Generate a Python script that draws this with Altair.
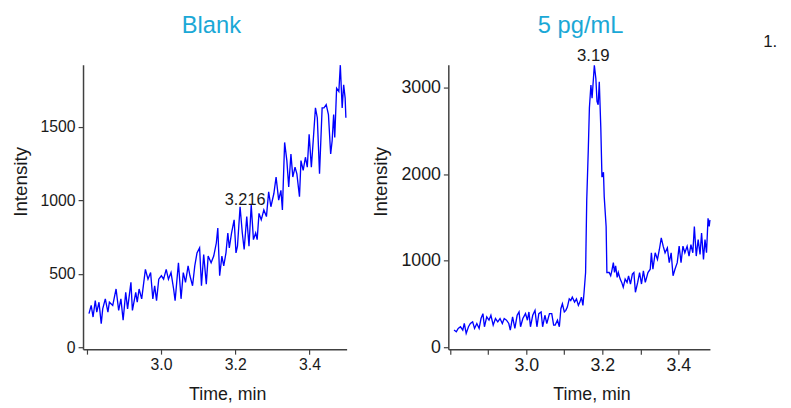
import altair as alt
import pandas as pd

# ---------------- data ----------------
blank_time = [2.806, 2.812, 2.817, 2.823, 2.827, 2.833, 2.839, 2.843, 2.850, 2.857,
              2.861, 2.870, 2.879, 2.886, 2.892, 2.898, 2.905, 2.910, 2.919, 2.923,
              2.932, 2.936, 2.941, 2.948, 2.958, 2.965, 2.972, 2.978, 2.983, 2.988,
              2.994, 3.001, 3.007, 3.014, 3.020, 3.027, 3.034, 3.038, 3.047, 3.054,
              3.060, 3.066, 3.073, 3.078, 3.085, 3.091, 3.097, 3.104, 3.109, 3.115,
              3.122, 3.127, 3.135, 3.142, 3.149, 3.153, 3.158, 3.164, 3.169, 3.175,
              3.180, 3.184, 3.190, 3.197, 3.202, 3.206, 3.213, 3.219, 3.224, 3.231,
              3.237, 3.243, 3.249, 3.255, 3.259, 3.264, 3.270, 3.277, 3.284, 3.290,
              3.296, 3.304, 3.310, 3.317, 3.323, 3.327, 3.333, 3.339, 3.344, 3.350,
              3.355, 3.361, 3.366, 3.373, 3.377, 3.383, 3.389, 3.394, 3.399, 3.405,
              3.410, 3.416, 3.421, 3.427, 3.434, 3.439, 3.445, 3.451, 3.457, 3.461,
              3.465, 3.468, 3.473, 3.479, 3.483, 3.488, 3.492, 3.496, 3.498]
blank_int = [229, 285, 206, 318, 240, 307, 161, 262, 330, 240,
             307, 285, 397, 251, 330, 184, 374, 262, 442, 251,
             374, 307, 397, 330, 531, 464, 509, 330, 419, 318,
             464, 487, 464, 531, 464, 509, 397, 318, 576, 330,
             509, 442, 554, 487, 419, 554, 643, 677, 419, 632,
             430, 621, 576, 621, 710, 812, 487, 621, 554, 643,
             778, 677, 778, 868, 643, 688, 957, 778, 666, 890,
             688, 969, 733, 778, 733, 912, 868, 935, 890, 1058,
             957, 1047, 1159, 1002, 1069, 935, 1395, 1271, 1092, 1316,
             1159, 1226, 1181, 1025, 1271, 1204, 1294, 1226, 1450, 1226,
             1406, 1630, 1563, 1181, 1630, 1630, 1652, 1585, 1316, 1406,
             1585, 1428, 1764, 1742, 1921, 1630, 1787, 1697, 1563]

std_time = [2.810, 2.816, 2.821, 2.827, 2.833, 2.837, 2.842, 2.848, 2.853, 2.859,
            2.864, 2.870, 2.876, 2.881, 2.886, 2.890, 2.896, 2.902, 2.907, 2.913,
            2.919, 2.925, 2.931, 2.937, 2.942, 2.948, 2.954, 2.958, 2.964, 2.970,
            2.976, 2.981, 2.985, 2.991, 2.998, 3.003, 3.007, 3.011, 3.017, 3.023,
            3.028, 3.033, 3.039, 3.043, 3.049, 3.054, 3.061, 3.067, 3.072, 3.076,
            3.082, 3.087, 3.091, 3.095, 3.100, 3.104, 3.108, 3.113, 3.117, 3.121,
            3.127, 3.132, 3.137, 3.141, 3.145, 3.149, 3.152, 3.156, 3.159, 3.163,
            3.166, 3.170, 3.173, 3.176, 3.179, 3.183, 3.186, 3.189, 3.192, 3.196,
            3.199, 3.203, 3.205, 3.210, 3.212, 3.215, 3.218, 3.222, 3.225, 3.229,
            3.232, 3.235, 3.239, 3.242, 3.247, 3.251, 3.255, 3.260, 3.265, 3.269,
            3.274, 3.279, 3.283, 3.287, 3.293, 3.298, 3.303, 3.308, 3.313, 3.320,
            3.326, 3.329, 3.333, 3.339, 3.345, 3.350, 3.355, 3.360, 3.365, 3.371,
            3.376, 3.381, 3.386, 3.391, 3.397, 3.402, 3.407, 3.412, 3.417, 3.423,
            3.428, 3.433, 3.438, 3.442, 3.447, 3.452, 3.457, 3.461, 3.466, 3.470,
            3.474, 3.478, 3.481, 3.483]
std_int = [198, 179, 217, 236, 198, 274, 160, 236, 274, 293,
           217, 274, 217, 331, 388, 236, 350, 312, 369, 255,
           331, 293, 331, 274, 331, 312, 274, 198, 350, 217,
           369, 407, 236, 331, 388, 312, 407, 236, 369, 426,
           236, 388, 407, 236, 369, 274, 388, 388, 255, 255,
           312, 236, 445, 502, 407, 426, 464, 559, 540, 578,
           521, 559, 483, 521, 578, 483, 635, 863, 1699, 2269,
           2763, 3029, 2877, 3067, 3257, 3105, 2839, 2801, 3067, 2535,
           1965, 2022, 1737, 1395, 863, 863, 863, 825, 882, 977,
           863, 939, 806, 863, 787, 749, 692, 787, 749, 825,
           730, 844, 863, 635, 749, 863, 730, 882, 749, 863,
           901, 1091, 901, 1091, 1015, 1129, 1262, 1167, 1091, 1148,
           977, 1091, 825, 901, 977, 1167, 977, 1167, 1091, 1167,
           1053, 1186, 1091, 1395, 1053, 1243, 1072, 1319, 1015, 1243,
           1091, 1490, 1395, 1471]

panel_titles = ["Blank", "5 pg/mL"]
peak_labels = ["3.216", "3.19"]
peak_times = [3.216, 3.179]
peak_ints = [968, 3257]
corner_label = "1."

blank_xticks = [2.80, 2.85, 2.90, 2.95, 3.00, 3.05, 3.10, 3.15, 3.20, 3.25, 3.30, 3.35, 3.40, 3.45, 3.50]
std_xticks = [2.80, 2.85, 2.90, 2.95, 3.00, 3.05, 3.10, 3.15, 3.20, 3.25, 3.30, 3.35, 3.40, 3.45]
blank_yticks = [0, 500, 1000, 1500]
std_yticks = [0, 1000, 2000, 3000]

# ---------------- styling ----------------
FONT = "Liberation Sans"
LINE_BLUE = "#0000ff"
TITLE_COLOR = "#1ba8d6"
TEXT_COLOR = "#1a1a1a"
AXIS_COLOR = "#404040"
H = 288

LABEL_EXPR = ("datum.value > 2.9 && abs(datum.value*5 - round(datum.value*5)) < 0.001 "
              "? format(datum.value, '.1f') : ''")


def panel(times, ints, xdom, ydom, xticks, yticks, width, title, title_x,
          ann_label, ann_t, ann_v, ann_dx, ann_dy, ann_size,
          label_size, x_title_pad, x_title_x, y_title_pad, extra=None):
    df = pd.DataFrame({"t": times, "v": ints})
    x = alt.X("t:Q",
              scale=alt.Scale(domain=xdom, nice=False, zero=False),
              axis=alt.Axis(values=xticks, labelExpr=LABEL_EXPR, title="Time, min",
                            grid=False, labelPadding=3, labelFontSize=label_size,
                            titlePadding=x_title_pad, titleFontSize=18,
                            titleX=x_title_x, labelFlush=False))
    y = alt.Y("v:Q",
              scale=alt.Scale(domain=ydom, nice=False, zero=False),
              axis=alt.Axis(values=yticks, format="d", title="Intensity", grid=False,
                            labelPadding=3, labelFontSize=label_size,
                            titlePadding=y_title_pad, titleFontSize=19, titleY=118,
                            labelFlush=False))
    line = alt.Chart(df).mark_line(color=LINE_BLUE, strokeWidth=1.35).encode(x=x, y=y)

    ann_df = pd.DataFrame({"t": [ann_t], "v": [ann_v], "label": [ann_label]})
    ann = alt.Chart(ann_df).mark_text(font=FONT, fontSize=ann_size, color=TEXT_COLOR,
                                      baseline="alphabetic", align="center",
                                      dx=ann_dx, dy=ann_dy).encode(
        x="t:Q", y="v:Q", text="label:N")

    ttl_df = pd.DataFrame({"label": [title]})
    ttl = alt.Chart(ttl_df).mark_text(font=FONT, fontSize=24, color=TITLE_COLOR,
                                      baseline="alphabetic", align="center").encode(
        x=alt.value(title_x), y=alt.value(-32), text="label:N")

    layers = [line, ann, ttl]
    if extra is not None:
        layers.append(extra)
    return alt.layer(*layers).properties(width=width, height=H)


left = panel(blank_time, blank_int, [2.79, 3.5], [-13, 1923], blank_xticks, blank_yticks,
             267, panel_titles[0], 130,
             peak_labels[0], peak_times[0], peak_ints[0], 4, 0, 16.5,
             16, 13, 146, 10)

corner_df = pd.DataFrame({"label": [corner_label]})
corner = alt.Chart(corner_df).mark_text(font=FONT, fontSize=17, color=TEXT_COLOR,
                                        baseline="alphabetic", align="left").encode(
    x=alt.value(319), y=alt.value(-18), text="label:N")

right = panel(std_time, std_int, [2.795, 3.483], [-23, 3262], std_xticks, std_yticks,
              265, panel_titles[1], 134,
              peak_labels[1], peak_times[1], peak_ints[1], -1, -4, 17,
              18, 11, 145, 11, extra=corner)

chart = alt.hconcat(left, right, spacing=22).properties(
    padding={"left": 3, "top": 4, "right": 5, "bottom": 5}
).configure_view(stroke=None).configure_axis(
    domainColor=AXIS_COLOR, domainWidth=1.5,
    tickColor=AXIS_COLOR, tickWidth=1.2, tickSize=5,
    labelFont=FONT, labelColor=TEXT_COLOR,
    titleFont=FONT, titleColor=TEXT_COLOR, titleFontWeight="normal"
)

chart.save("out.html", embed_options={"renderer": "svg", "actions": False})
